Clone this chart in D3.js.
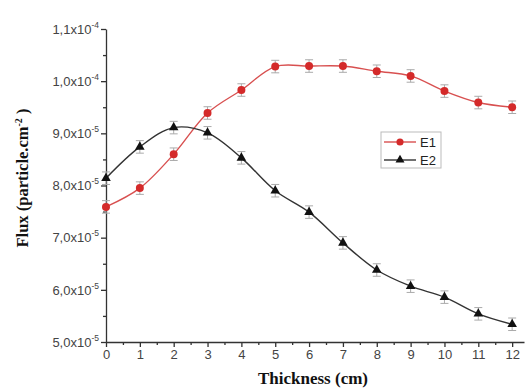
<!DOCTYPE html>
<html>
<head>
<meta charset="utf-8">
<script src="https://cdn.jsdelivr.net/npm/d3@7/dist/d3.min.js"></script>
<style>
  body { margin: 0; background: #fff; }
  svg { display: block; }
</style>
</head>
<body>
<div id="chart"></div>
<script>
// data
const thickness = [0, 1, 2, 3, 4, 5, 6, 7, 8, 9, 10, 11, 12];
const e1 = [7.59e-5, 7.95e-5, 8.6e-5, 9.39e-5, 9.83e-5, 1.028e-4, 1.029e-4, 1.029e-4, 1.019e-4, 1.01e-4, 9.81e-5, 9.59e-5, 9.5e-5];
const e2 = [8.14e-5, 8.74e-5, 9.11e-5, 9.01e-5, 8.53e-5, 7.9e-5, 7.49e-5, 6.9e-5, 6.38e-5, 6.07e-5, 5.86e-5, 5.54e-5, 5.34e-5];
const errE1 = [1.2e-6, 1.2e-6, 1.2e-6, 1.2e-6, 1.2e-6, 1.2e-6, 1.2e-6, 1.2e-6, 1.2e-6, 1.2e-6, 1.2e-6, 1.2e-6, 1.2e-6];
const errE2 = [1.2e-6, 1.2e-6, 1.2e-6, 1.2e-6, 1.2e-6, 1.2e-6, 1.2e-6, 1.2e-6, 1.2e-6, 1.2e-6, 1.2e-6, 1.2e-6, 1.2e-6];
const seriesNames = ["E1", "E2"];
const xTicks = [0, 1, 2, 3, 4, 5, 6, 7, 8, 9, 10, 11, 12];
const yTicks = [5e-5, 6e-5, 7e-5, 8e-5, 9e-5, 1e-4, 1.1e-4];

const width = 528, height = 389;
const m = { left: 106, right: 524, top: 29, bottom: 342 };

const svg = d3.select("#chart").append("svg")
  .attr("width", width)
  .attr("height", height);

const x = d3.scaleLinear().domain([0, 12.35]).range([m.left, m.right]);
const y = d3.scaleLinear().domain([5e-5, 1.1e-4]).range([m.bottom, m.top]);

// tick label like 1,1x10^-4
function sciLabel(sel) {
  sel.each(function(v) {
    const exp = Math.floor(Math.log10(v) + 1e-9);
    const mant = (v / Math.pow(10, exp)).toFixed(1).replace(".", ",");
    const t = d3.select(this).text(null);
    t.append("tspan").text(mant + "x10");
    t.append("tspan").attr("dy", -6).style("font-size", "8.5px").text(exp);
  });
}

const tickColor = "#444";

// y axis
const yAxis = svg.append("g")
  .attr("transform", `translate(${m.left},0)`)
  .call(d3.axisLeft(y).tickValues(yTicks).tickSize(5).tickSizeOuter(0));
svg.append("g")
  .attr("transform", `translate(${m.left},0)`)
  .call(d3.axisLeft(y).tickValues(d3.range(5.5e-5, 1.1e-4, 1e-5)).tickSize(3).tickFormat(""))
  .call(g => g.select(".domain").remove());
yAxis.selectAll("text")
  .attr("x", -7)
  .style("font-family", "Liberation Sans, Arial, sans-serif")
  .style("font-size", "13px")
  .attr("fill", tickColor)
  .call(sciLabel);

// x axis
const xAxis = svg.append("g")
  .attr("transform", `translate(0,${m.bottom})`)
  .call(d3.axisBottom(x).tickValues(xTicks).tickSize(5).tickSizeOuter(0).tickFormat(d3.format("d")));
svg.append("g")
  .attr("transform", `translate(0,${m.bottom})`)
  .call(d3.axisBottom(x).tickValues(d3.range(0.5, 12, 1)).tickSize(3).tickFormat(""))
  .call(g => g.select(".domain").remove());
xAxis.selectAll("text")
  .attr("y", 8)
  .style("font-family", "Liberation Sans, Arial, sans-serif")
  .style("font-size", "13px")
  .attr("fill", tickColor);

svg.selectAll(".domain, .tick line").attr("stroke", "#333").attr("stroke-width", 1.3);

// axis titles
svg.append("text")
  .attr("x", 313)
  .attr("y", 384)
  .attr("text-anchor", "middle")
  .style("font-family", "Liberation Serif, Times New Roman, serif")
  .style("font-weight", "bold")
  .style("font-size", "17px")
  .attr("fill", "#111")
  .text("Thickness (cm)");

const yl = svg.append("text")
  .attr("transform", "translate(28,178) rotate(-90)")
  .attr("text-anchor", "middle")
  .style("font-family", "Liberation Serif, Times New Roman, serif")
  .style("font-weight", "bold")
  .style("font-size", "16.5px")
  .attr("fill", "#111");
yl.append("tspan").text("Flux (particle.cm");
yl.append("tspan").attr("dy", -6).style("font-size", "10px").text("-2");
yl.append("tspan").attr("dy", 6).text(" )");

// series
const series = [
  { name: seriesNames[0], values: e1, err: errE1, color: "#d42a2a", line: "#d85050", marker: "circle" },
  { name: seriesNames[1], values: e2, err: errE2, color: "#111", line: "#333", marker: "triangle" }
];

const line = d3.line()
  .x((d, i) => x(thickness[i]))
  .y(d => y(d))
  .curve(d3.curveCatmullRom.alpha(0.5));

series.forEach(s => {
  const g = svg.append("g");
  // error bars
  const eb = g.selectAll(".err").data(s.values).enter().append("g").attr("class", "err");
  eb.append("line")
    .attr("x1", (d, i) => x(thickness[i])).attr("x2", (d, i) => x(thickness[i]))
    .attr("y1", (d, i) => y(d - s.err[i])).attr("y2", (d, i) => y(d + s.err[i]))
    .attr("stroke", "#aaa").attr("stroke-width", 1);
  [-1, 1].forEach(sign => {
    eb.append("line")
      .attr("x1", (d, i) => x(thickness[i]) - 4).attr("x2", (d, i) => x(thickness[i]) + 4)
      .attr("y1", (d, i) => y(d + sign * s.err[i])).attr("y2", (d, i) => y(d + sign * s.err[i]))
      .attr("stroke", "#aaa").attr("stroke-width", 1);
  });

  g.append("path")
    .datum(s.values)
    .attr("fill", "none")
    .attr("stroke", s.line)
    .attr("stroke-width", 1.4)
    .attr("d", line);

  const sym = s.marker === "circle" ? d3.symbolCircle : d3.symbolTriangle;
  g.selectAll(".pt").data(s.values).enter().append("path")
    .attr("transform", (d, i) => `translate(${x(thickness[i])},${y(d)})`)
    .attr("d", d3.symbol().type(sym).size(s.marker === "circle" ? 50 : 40))
    .attr("fill", s.color);
});

// legend
const lg = svg.append("g").attr("transform", "translate(381,132)");
lg.append("rect")
  .attr("width", 60).attr("height", 36)
  .attr("fill", "#fff").attr("stroke", "#bbb").attr("stroke-width", 1);
series.forEach((s, i) => {
  const yy = 10 + i * 18;
  lg.append("line").attr("x1", 3).attr("x2", 35).attr("y1", yy).attr("y2", yy)
    .attr("stroke", s.line).attr("stroke-width", 1.4);
  lg.append("path")
    .attr("transform", `translate(19,${yy})`)
    .attr("d", d3.symbol().type(s.marker === "circle" ? d3.symbolCircle : d3.symbolTriangle)
      .size(s.marker === "circle" ? 40 : 35))
    .attr("fill", s.color);
  lg.append("text").attr("x", 39).attr("y", yy + 5)
    .style("font-family", "Liberation Sans, Arial, sans-serif")
    .style("font-size", "13px")
    .attr("fill", "#222")
    .text(s.name);
});
</script>
</body>
</html>
